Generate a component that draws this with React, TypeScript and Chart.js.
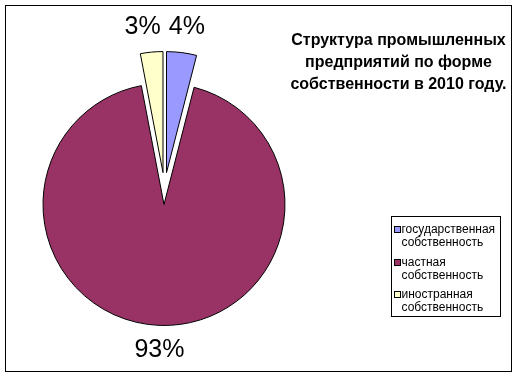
import React, { useEffect, useRef } from "react";
import { Chart, registerables } from "chart.js";

Chart.register(...registerables);

// ---- data ----
const categories = [
  "государственная собственность",
  "частная собственность",
  "иностранная собственность",
];
const legendLines = [
  ["государственная", "собственность"],
  ["частная", "собственность"],
  ["иностранная", "собственность"],
];
const shares = [4, 93, 3];
const titleLines = [
  "Структура промышленных",
  "предприятий по форме",
  "собственности в 2010 году.",
];
const sliceColors = ["#9999FF", "#993366", "#FFFFCC"];

// ---- styling / layout ----
const EXPLODE = 16;
const FONT = '"Liberation Sans", Arial, sans-serif';

const explodePlugin = {
  id: "explodeSlices",
  afterDatasetsUpdate(chart: any) {
    const meta = chart.getDatasetMeta(0);
    meta.data.forEach((arc: any) => {
      const mid = (arc.startAngle + arc.endAngle) / 2;
      arc.x += Math.cos(mid) * EXPLODE;
      arc.y += Math.sin(mid) * EXPLODE;
    });
  },
};

const framePlugin = {
  id: "frame",
  beforeDraw(chart: any) {
    const ctx = chart.ctx;
    ctx.save();
    ctx.fillStyle = "#ffffff";
    ctx.fillRect(0, 0, chart.width, chart.height);
    ctx.strokeStyle = "#000000";
    ctx.lineWidth = 1;
    ctx.strokeRect(5.5, 5.5, 506, 366);
    ctx.restore();
  },
};

const labelPlugin = {
  id: "pctLabels",
  afterDatasetsDraw(chart: any) {
    const ctx = chart.ctx;
    const meta = chart.getDatasetMeta(0);
    const data: number[] = chart.data.datasets[0].data;
    const total = data.reduce((a, b) => a + b, 0);
    ctx.save();
    ctx.font = `25px ${FONT}`;
    ctx.fillStyle = "#000000";
    ctx.textAlign = "center";
    ctx.textBaseline = "middle";
    const items = meta.data.map((arc: any, i: number) => {
      const mid = (arc.startAngle + arc.endAngle) / 2;
      const dist = arc.outerRadius + 25;
      const text = Math.round((data[i] / total) * 100) + "%";
      return {
        text,
        ax: arc.x,
        x: arc.x + Math.cos(mid) * dist,
        y: arc.y + Math.sin(mid) * dist,
        w: ctx.measureText(text).width,
      };
    });
    for (let i = 0; i < items.length; i++) {
      for (let j = i + 1; j < items.length; j++) {
        const a = items[i];
        const b = items[j];
        const need = (a.w + b.w) / 2 + 8;
        if (Math.abs(a.y - b.y) < 26 && Math.abs(a.x - b.x) < need) {
          const c = (a.ax + b.ax) / 2;
          const left = a.x <= b.x ? a : b;
          const right = a.x <= b.x ? b : a;
          left.x = c - need / 2;
          right.x = c + need / 2;
          const y = Math.min(a.y, b.y);
          a.y = y;
          b.y = y;
        }
      }
    }
    items.forEach((it: any) => ctx.fillText(it.text, it.x, it.y));
    ctx.restore();
  },
};

const titlePlugin = {
  id: "sideTitle",
  afterDraw(chart: any) {
    const ctx = chart.ctx;
    ctx.save();
    ctx.font = `bold 16px ${FONT}`;
    ctx.fillStyle = "#000000";
    ctx.textAlign = "center";
    ctx.textBaseline = "alphabetic";
    titleLines.forEach((line, i) => ctx.fillText(line, 398.5, 45 + i * 22));
    ctx.restore();
  },
};

const legendPlugin = {
  id: "boxLegend",
  afterDraw(chart: any) {
    const ctx = chart.ctx;
    const colors: string[] = chart.data.datasets[0].backgroundColor;
    ctx.save();
    ctx.strokeStyle = "#000000";
    ctx.lineWidth = 1;
    ctx.strokeRect(391.5, 216.5, 109, 100);
    ctx.font = `12px ${FONT}`;
    ctx.textAlign = "left";
    ctx.textBaseline = "middle";
    legendLines.forEach((lines, i) => {
      const y0 = 230 + i * 32.5;
      ctx.fillStyle = colors[i];
      ctx.fillRect(395, Math.round(y0) - 3, 5, 5);
      ctx.strokeStyle = "#000000";
      ctx.strokeRect(394.5, Math.round(y0) - 3.5, 6, 6);
      ctx.fillStyle = "#000000";
      lines.forEach((ln, k) => ctx.fillText(ln, 401.5, y0 + k * 13));
    });
    ctx.restore();
  },
};

export default function App() {
  const ref = useRef<HTMLCanvasElement | null>(null);
  useEffect(() => {
    if (!ref.current) return;
    const chart = new Chart(ref.current, {
      type: "pie",
      data: {
        labels: categories,
        datasets: [
          {
            data: shares,
            backgroundColor: sliceColors,
            borderColor: "#000000",
            borderWidth: 1,
            hoverBorderWidth: 1,
            hoverOffset: 0,
            offset: 0,
          },
        ],
      },
      options: {
        responsive: false,
        animation: false,
        events: [],
        layout: { padding: { left: 43, top: 67, right: 231, bottom: 68 } },
        plugins: {
          legend: { display: false },
          title: { display: false },
          tooltip: { enabled: false },
        },
      },
      plugins: [framePlugin, explodePlugin, labelPlugin, titlePlugin, legendPlugin],
    });
    return () => chart.destroy();
  }, []);
  return (
    <div style={{ position: "absolute", left: 0, top: 0, width: 517, height: 378 }}>
      <canvas ref={ref} width={517} height={378} style={{ display: "block" }} />
    </div>
  );
}
